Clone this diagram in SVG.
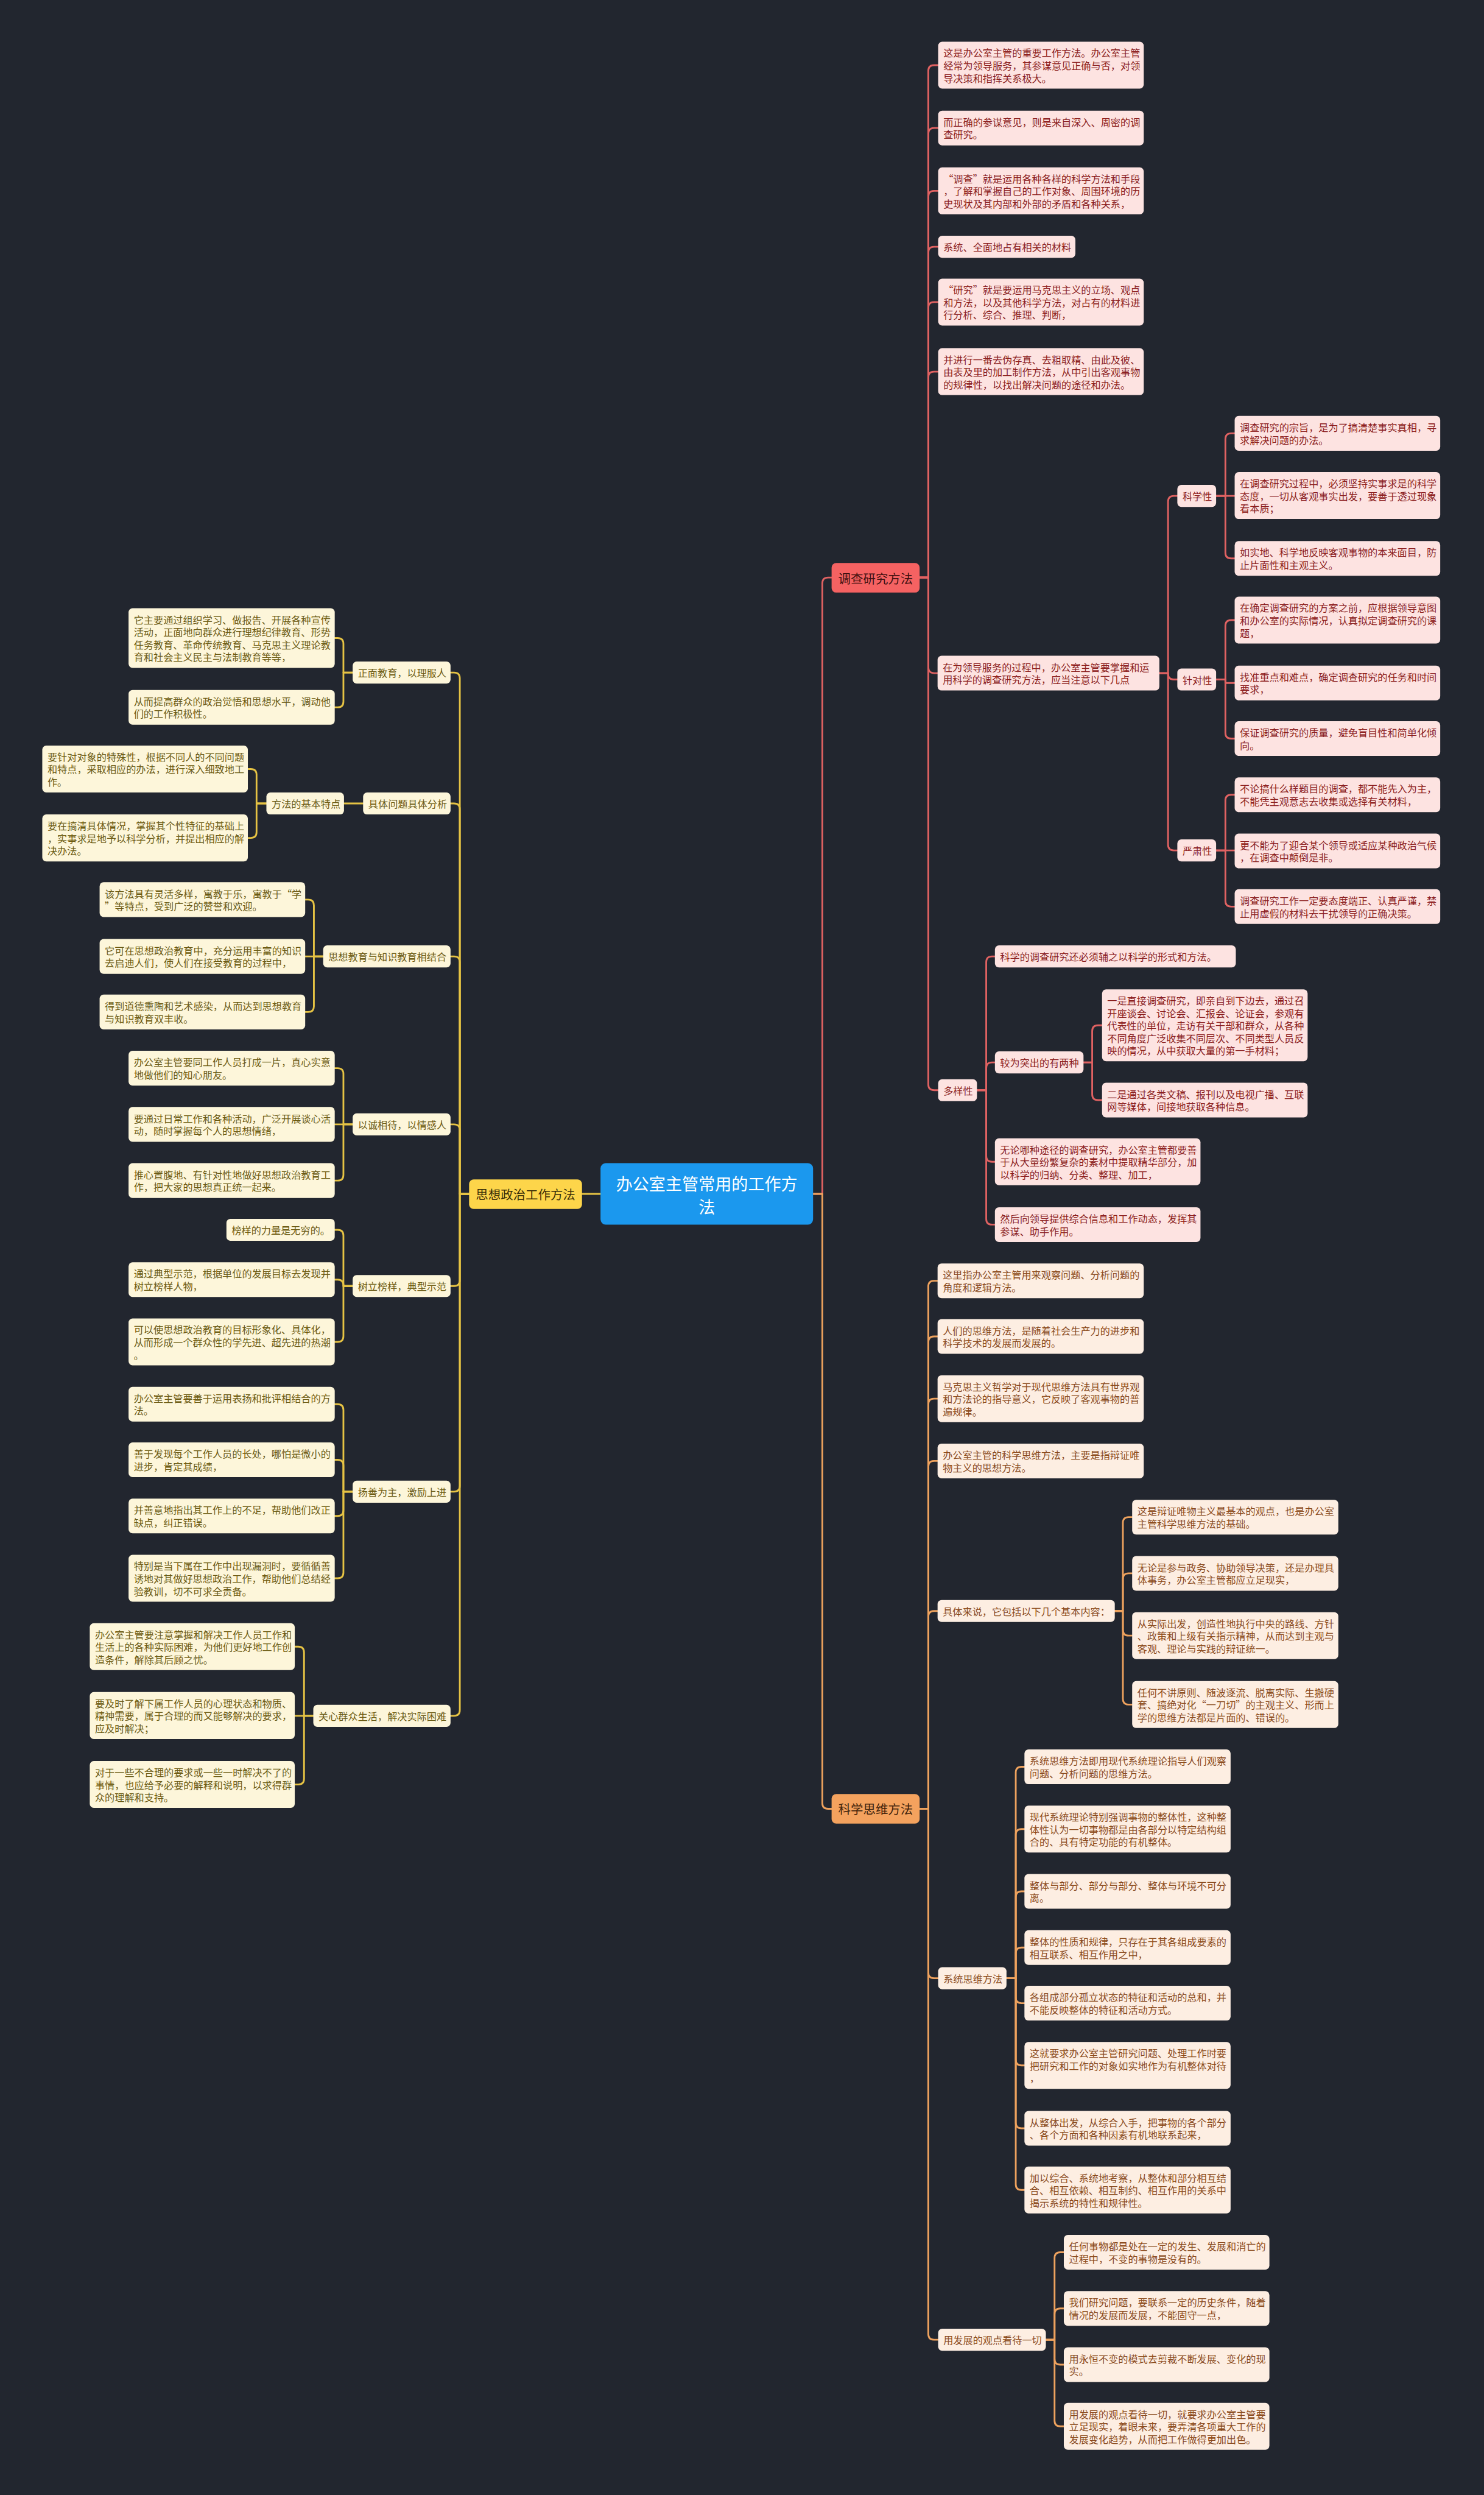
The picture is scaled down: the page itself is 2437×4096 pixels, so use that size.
<svg xmlns="http://www.w3.org/2000/svg" width="2437" height="4096" viewBox="0 0 2437 4096">
<style>
.t{font-family:"Noto Sans CJK SC","Noto Sans",sans-serif;font-size:17px;dominant-baseline:central}
.m{font-family:"Noto Sans CJK SC","Noto Sans",sans-serif;font-size:21.5px;dominant-baseline:central;text-anchor:middle}
.rr{fill:#fde3e1}.tr{fill:#8b1d1d}
.ro{fill:#fdeee2}.to{fill:#8a4a1c}
.ry{fill:#fdf6da}.ty{fill:#6b5a12}
.cr,.co,.cy{fill:none;stroke-width:3;stroke-linejoin:round;stroke-linecap:round}
.cr{stroke:#e06262}.co{stroke:#eea25e}.cy{stroke:#e6c344}
</style>
<rect x="0" y="0" width="2437" height="4096" fill="#22262f"/>
<g transform="scale(0.951)">
<g id="connectors">
<g class="cr">
<path d="M1404 2061 H1420 V1007 Q1420 997 1430 997 H1436"/>
<path d="M1588 997 H1603 V122.5 Q1603 112.5 1613 112.5 H1620"/>
<path d="M1588 997 H1603 V231 Q1603 221 1613 221 H1620"/>
<path d="M1588 997 H1603 V339.5 Q1603 329.5 1613 329.5 H1620"/>
<path d="M1588 997 H1603 V436 Q1603 426 1613 426 H1620"/>
<path d="M1588 997 H1603 V531.5 Q1603 521.5 1613 521.5 H1620"/>
<path d="M1588 997 H1603 V651.5 Q1603 641.5 1613 641.5 H1620"/>
<path d="M1588 997 H1603 V1152 Q1603 1162 1613 1162 H1619"/>
<path d="M1588 997 H1603 V1872 Q1603 1882 1613 1882 H1620"/>
<path d="M2002 1162 H2017 V866 Q2017 856 2027 856 H2033"/>
<path d="M2002 1162 H2017 V1163 Q2017 1173 2027 1173 H2033"/>
<path d="M2002 1162 H2017 V1458 Q2017 1468 2027 1468 H2033"/>
<path d="M2100 856 H2116 V758 Q2116 748 2126 748 H2132"/>
<path d="M2100 856 H2132"/>
<path d="M2100 856 H2116 V954 Q2116 964 2126 964 H2132"/>
<path d="M2100 1173 H2116 V1080.5 Q2116 1070.5 2126 1070.5 H2132"/>
<path d="M2100 1173 H2116 V1179 H2132"/>
<path d="M2100 1173 H2116 V1265 Q2116 1275 2126 1275 H2132"/>
<path d="M2100 1468 H2116 V1382 Q2116 1372 2126 1372 H2132"/>
<path d="M2100 1468 H2132"/>
<path d="M2100 1468 H2116 V1555 Q2116 1565 2126 1565 H2132"/>
<path d="M1687 1882 H1703 V1661 Q1703 1651 1713 1651 H1718"/>
<path d="M1687 1882 H1703 V1844 Q1703 1834 1713 1834 H1718"/>
<path d="M1687 1882 H1703 V1995.5 Q1703 2005.5 1713 2005.5 H1718"/>
<path d="M1687 1882 H1703 V2104 Q1703 2114 1713 2114 H1718"/>
<path d="M1871 1834 H1886 V1780 Q1886 1770 1896 1770 H1903"/>
<path d="M1871 1834 H1886 V1889 Q1886 1899 1896 1899 H1903"/>
</g>
<g class="co">
<path d="M1404 2061 H1420 V3112.5 Q1420 3122.5 1430 3122.5 H1436"/>
<path d="M1588 3122.5 H1603 V2221 Q1603 2211 1613 2211 H1619"/>
<path d="M1588 3122.5 H1603 V2317 Q1603 2307 1613 2307 H1619"/>
<path d="M1588 3122.5 H1603 V2424.5 Q1603 2414.5 1613 2414.5 H1619"/>
<path d="M1588 3122.5 H1603 V2532 Q1603 2522 1613 2522 H1619"/>
<path d="M1588 3122.5 H1603 V2791 Q1603 2781 1613 2781 H1619"/>
<path d="M1588 3122.5 H1603 V3405 Q1603 3415 1613 3415 H1620"/>
<path d="M1588 3122.5 H1603 V4029 Q1603 4039 1613 4039 H1620"/>
<path d="M1925 2781 H1939 V2629 Q1939 2619 1949 2619 H1955"/>
<path d="M1925 2781 H1939 V2726 Q1939 2716 1949 2716 H1955"/>
<path d="M1925 2781 H1939 V2813.5 Q1939 2823.5 1949 2823.5 H1955"/>
<path d="M1925 2781 H1939 V2932.5 Q1939 2942.5 1949 2942.5 H1955"/>
<path d="M1738 3415 H1754 V3060 Q1754 3050 1764 3050 H1769"/>
<path d="M1738 3415 H1754 V3167.5 Q1754 3157.5 1764 3157.5 H1769"/>
<path d="M1738 3415 H1754 V3275 Q1754 3265 1764 3265 H1769"/>
<path d="M1738 3415 H1754 V3372 Q1754 3362 1764 3362 H1769"/>
<path d="M1738 3415 H1754 V3448 Q1754 3458 1764 3458 H1769"/>
<path d="M1738 3415 H1754 V3555.5 Q1754 3565.5 1764 3565.5 H1769"/>
<path d="M1738 3415 H1754 V3664 Q1754 3674 1764 3674 H1769"/>
<path d="M1738 3415 H1754 V3770.5 Q1754 3780.5 1764 3780.5 H1769"/>
<path d="M1806 4039 H1821 V3898 Q1821 3888 1831 3888 H1837"/>
<path d="M1806 4039 H1821 V3995 Q1821 3985 1831 3985 H1837"/>
<path d="M1806 4039 H1821 V4072 Q1821 4082 1831 4082 H1837"/>
<path d="M1806 4039 H1821 V4178.5 Q1821 4188.5 1831 4188.5 H1837"/>
</g>
<g class="cy">
<path d="M1037 2061 H1005"/>
<path d="M810 2061 H794 V1171 Q794 1161 784 1161 H778"/>
<path d="M810 2061 H794 V1397 Q794 1387 784 1387 H778"/>
<path d="M810 2061 H794 V1661 Q794 1651 784 1651 H778"/>
<path d="M810 2061 H794 V1951 Q794 1941 784 1941 H778"/>
<path d="M810 2061 H794 V2210 Q794 2220 784 2220 H778"/>
<path d="M810 2061 H794 V2565 Q794 2575 784 2575 H778"/>
<path d="M810 2061 H794 V2952 Q794 2962 784 2962 H778"/>
<path d="M609 1161 H593 V1111.5 Q593 1101.5 583 1101.5 H578"/>
<path d="M609 1161 H593 V1211 Q593 1221 583 1221 H578"/>
<path d="M627 1387 H594"/>
<path d="M460 1387 H443 V1337.5 Q443 1327.5 433 1327.5 H428"/>
<path d="M460 1387 H443 V1436.5 Q443 1446.5 433 1446.5 H428"/>
<path d="M558 1651 H542 V1563 Q542 1553 532 1553 H527"/>
<path d="M558 1651 H527"/>
<path d="M558 1651 H542 V1737 Q542 1747 532 1747 H527"/>
<path d="M609 1941 H593 V1854 Q593 1844 583 1844 H578"/>
<path d="M609 1941 H578"/>
<path d="M609 1941 H593 V2028 Q593 2038 583 2038 H578"/>
<path d="M609 2220 H593 V2133 Q593 2123 583 2123 H578"/>
<path d="M609 2220 H593 V2219 Q593 2209 583 2209 H578"/>
<path d="M609 2220 H593 V2306.5 Q593 2316.5 583 2316.5 H578"/>
<path d="M609 2575 H593 V2434 Q593 2424 583 2424 H578"/>
<path d="M609 2575 H593 V2530 Q593 2520 583 2520 H578"/>
<path d="M609 2575 H593 V2607 Q593 2617 583 2617 H578"/>
<path d="M609 2575 H593 V2714.5 Q593 2724.5 583 2724.5 H578"/>
<path d="M541 2962 H525 V2852.5 Q525 2842.5 515 2842.5 H509"/>
<path d="M541 2962 H509"/>
<path d="M541 2962 H525 V3070.5 Q525 3080.5 515 3080.5 H509"/>
</g>
</g>

<g id="root"><rect x="1037" y="2008" width="367" height="106" rx="9" fill="#1b98ee"/><text class="m" x="1220.5" y="2043" fill="#ffffff" style="font-size:28.5px">办公室主管常用的工作方</text><text class="m" x="1220.5" y="2083" fill="#ffffff" style="font-size:28.5px">法</text></g>
<g id="n-diaocha"><rect x="1436" y="972" width="152" height="51" rx="8" fill="#f56262"/><text class="m" x="1512" y="997.5" fill="#3e1010">调查研究方法</text></g>
<g id="n-kexue"><rect x="1436" y="3097" width="152" height="51" rx="8" fill="#f4a25e"/><text class="m" x="1512" y="3122.5" fill="#3e230c">科学思维方法</text></g>
<g id="n-sixiang"><rect x="810" y="2036" width="195" height="51" rx="8" fill="#fdd54a"/><text class="m" x="907.5" y="2061.5" fill="#3a2e08">思想政治工作方法</text></g>

<g id="r1"><rect class="rr" x="1620" y="72" width="355" height="81" rx="7"/><text class="t tr" x="1629" y="90.9"><tspan>这是办公室主管的重要工作方法。办公室主管</tspan><tspan x="1629" dy="21.6">经常为领导服务，其参谋意见正确与否，对领</tspan><tspan x="1629" dy="21.6">导决策和指挥关系极大。</tspan></text></g>
<g id="r2"><rect class="rr" x="1620" y="191" width="355" height="60" rx="7"/><text class="t tr" x="1629" y="210.2"><tspan>而正确的参谋意见，则是来自深入、周密的调</tspan><tspan x="1629" dy="21.6">查研究。</tspan></text></g>
<g id="r3"><rect class="rr" x="1620" y="289" width="355" height="81" rx="7"/><text class="t tr" x="1629" y="307.9"><tspan>“调查”就是运用各种各样的科学方法和手段</tspan><tspan x="1629" dy="21.6">，了解和掌握自己的工作对象、周围环境的历</tspan><tspan x="1629" dy="21.6">史现状及其内部和外部的矛盾和各种关系，</tspan></text></g>
<g id="r4"><rect class="rr" x="1620" y="407" width="237" height="38" rx="7"/><text class="t tr" x="1629" y="426">系统、全面地占有相关的材料</text></g>
<g id="r5"><rect class="rr" x="1620" y="481" width="355" height="81" rx="7"/><text class="t tr" x="1629" y="499.9"><tspan>“研究”就是要运用马克思主义的立场、观点</tspan><tspan x="1629" dy="21.6">和方法，以及其他科学方法，对占有的材料进</tspan><tspan x="1629" dy="21.6">行分析、综合、推理、判断，</tspan></text></g>
<g id="r6"><rect class="rr" x="1620" y="601" width="355" height="81" rx="7"/><text class="t tr" x="1629" y="619.9"><tspan>并进行一番去伪存真、去粗取精、由此及彼、</tspan><tspan x="1629" dy="21.6">由表及里的加工制作方法，从中引出客观事物</tspan><tspan x="1629" dy="21.6">的规律性，以找出解决问题的途径和办法。</tspan></text></g>
<g id="r7"><rect class="rr" x="1619" y="1132" width="383" height="60" rx="7"/><text class="t tr" x="1628" y="1151.2"><tspan>在为领导服务的过程中，办公室主管要掌握和运</tspan><tspan x="1628" dy="21.6">用科学的调查研究方法，应当注意以下几点</tspan></text></g>
<g id="r-kxx"><rect class="rr" x="2033" y="837" width="67" height="38" rx="7"/><text class="t tr" x="2042" y="856">科学性</text></g>
<g id="r-zdx"><rect class="rr" x="2033" y="1154" width="67" height="38" rx="7"/><text class="t tr" x="2042" y="1173">针对性</text></g>
<g id="r-ysx"><rect class="rr" x="2033" y="1449" width="67" height="38" rx="7"/><text class="t tr" x="2042" y="1468">严肃性</text></g>
<g id="l1"><rect class="rr" x="2132" y="718" width="355" height="60" rx="7"/><text class="t tr" x="2141" y="737.2"><tspan>调查研究的宗旨，是为了搞清楚事实真相，寻</tspan><tspan x="2141" dy="21.6">求解决问题的办法。</tspan></text></g>
<g id="l2"><rect class="rr" x="2132" y="815" width="355" height="81" rx="7"/><text class="t tr" x="2141" y="833.9"><tspan>在调查研究过程中，必须坚持实事求是的科学</tspan><tspan x="2141" dy="21.6">态度，一切从客观事实出发，要善于透过现象</tspan><tspan x="2141" dy="21.6">看本质；</tspan></text></g>
<g id="l3"><rect class="rr" x="2132" y="934" width="355" height="60" rx="7"/><text class="t tr" x="2141" y="953.2"><tspan>如实地、科学地反映客观事物的本来面目，防</tspan><tspan x="2141" dy="21.6">止片面性和主观主义。</tspan></text></g>
<g id="l4"><rect class="rr" x="2132" y="1030" width="355" height="81" rx="7"/><text class="t tr" x="2141" y="1048.9"><tspan>在确定调查研究的方案之前，应根据领导意图</tspan><tspan x="2141" dy="21.6">和办公室的实际情况，认真拟定调查研究的课</tspan><tspan x="2141" dy="21.6">题，</tspan></text></g>
<g id="l5"><rect class="rr" x="2132" y="1149" width="355" height="60" rx="7"/><text class="t tr" x="2141" y="1168.2"><tspan>找准重点和难点，确定调查研究的任务和时间</tspan><tspan x="2141" dy="21.6">要求，</tspan></text></g>
<g id="l6"><rect class="rr" x="2132" y="1245" width="355" height="60" rx="7"/><text class="t tr" x="2141" y="1264.2"><tspan>保证调查研究的质量，避免盲目性和简单化倾</tspan><tspan x="2141" dy="21.6">向。</tspan></text></g>
<g id="l7"><rect class="rr" x="2132" y="1342" width="355" height="60" rx="7"/><text class="t tr" x="2141" y="1361.2"><tspan>不论搞什么样题目的调查，都不能先入为主，</tspan><tspan x="2141" dy="21.6">不能凭主观意志去收集或选择有关材料，</tspan></text></g>
<g id="l8"><rect class="rr" x="2132" y="1439" width="355" height="60" rx="7"/><text class="t tr" x="2141" y="1458.2"><tspan>更不能为了迎合某个领导或适应某种政治气候</tspan><tspan x="2141" dy="21.6">，在调查中颠倒是非。</tspan></text></g>
<g id="l9"><rect class="rr" x="2132" y="1535" width="355" height="60" rx="7"/><text class="t tr" x="2141" y="1554.2"><tspan>调查研究工作一定要态度端正、认真严谨，禁</tspan><tspan x="2141" dy="21.6">止用虚假的材料去干扰领导的正确决策。</tspan></text></g>
<g id="r-dyx"><rect class="rr" x="1620" y="1863" width="67" height="38" rx="7"/><text class="t tr" x="1629" y="1882">多样性</text></g>
<g id="m1"><rect class="rr" x="1718" y="1632" width="416" height="38" rx="7"/><text class="t tr" x="1727" y="1651">科学的调查研究还必须辅之以科学的形式和方法。</text></g>
<g id="m2"><rect class="rr" x="1718" y="1815" width="153" height="38" rx="7"/><text class="t tr" x="1727" y="1834">较为突出的有两种</text></g>
<g id="m2a"><rect class="rr" x="1903" y="1708" width="355" height="124" rx="7"/><text class="t tr" x="1912" y="1726.8"><tspan>一是直接调查研究，即亲自到下边去，通过召</tspan><tspan x="1912" dy="21.6">开座谈会、讨论会、汇报会、论证会，参观有</tspan><tspan x="1912" dy="21.6">代表性的单位，走访有关干部和群众，从各种</tspan><tspan x="1912" dy="21.6">不同角度广泛收集不同层次、不同类型人员反</tspan><tspan x="1912" dy="21.6">映的情况，从中获取大量的第一手材料；</tspan></text></g>
<g id="m2b"><rect class="rr" x="1903" y="1869" width="355" height="60" rx="7"/><text class="t tr" x="1912" y="1888.2"><tspan>二是通过各类文稿、报刊以及电视广播、互联</tspan><tspan x="1912" dy="21.6">网等媒体，间接地获取各种信息。</tspan></text></g>
<g id="m3"><rect class="rr" x="1718" y="1965" width="355" height="81" rx="7"/><text class="t tr" x="1727" y="1983.9"><tspan>无论哪种途径的调查研究，办公室主管都要善</tspan><tspan x="1727" dy="21.6">于从大量纷繁复杂的素材中提取精华部分，加</tspan><tspan x="1727" dy="21.6">以科学的归纳、分类、整理、加工，</tspan></text></g>
<g id="m4"><rect class="rr" x="1718" y="2084" width="355" height="60" rx="7"/><text class="t tr" x="1727" y="2103.2"><tspan>然后向领导提供综合信息和工作动态，发挥其</tspan><tspan x="1727" dy="21.6">参谋、助手作用。</tspan></text></g>

<g id="o1"><rect class="ro" x="1619" y="2181" width="356" height="60" rx="7"/><text class="t to" x="1628" y="2200.2"><tspan>这里指办公室主管用来观察问题、分析问题的</tspan><tspan x="1628" dy="21.6">角度和逻辑方法。</tspan></text></g>
<g id="o2"><rect class="ro" x="1619" y="2277" width="356" height="60" rx="7"/><text class="t to" x="1628" y="2296.2"><tspan>人们的思维方法，是随着社会生产力的进步和</tspan><tspan x="1628" dy="21.6">科学技术的发展而发展的。</tspan></text></g>
<g id="o3"><rect class="ro" x="1619" y="2374" width="356" height="81" rx="7"/><text class="t to" x="1628" y="2392.9"><tspan>马克思主义哲学对于现代思维方法具有世界观</tspan><tspan x="1628" dy="21.6">和方法论的指导意义，它反映了客观事物的普</tspan><tspan x="1628" dy="21.6">遍规律。</tspan></text></g>
<g id="o4"><rect class="ro" x="1619" y="2492" width="356" height="60" rx="7"/><text class="t to" x="1628" y="2511.2"><tspan>办公室主管的科学思维方法，主要是指辩证唯</tspan><tspan x="1628" dy="21.6">物主义的思想方法。</tspan></text></g>
<g id="o5"><rect class="ro" x="1619" y="2762" width="306" height="38" rx="7"/><text class="t to" x="1628" y="2781">具体来说，它包括以下几个基本内容：</text></g>
<g id="o5a"><rect class="ro" x="1955" y="2589" width="356" height="60" rx="7"/><text class="t to" x="1964" y="2608.2"><tspan>这是辩证唯物主义最基本的观点，也是办公室</tspan><tspan x="1964" dy="21.6">主管科学思维方法的基础。</tspan></text></g>
<g id="o5b"><rect class="ro" x="1955" y="2686" width="356" height="60" rx="7"/><text class="t to" x="1964" y="2705.2"><tspan>无论是参与政务、协助领导决策，还是办理具</tspan><tspan x="1964" dy="21.6">体事务，办公室主管都应立足现实，</tspan></text></g>
<g id="o5c"><rect class="ro" x="1955" y="2783" width="356" height="81" rx="7"/><text class="t to" x="1964" y="2801.9"><tspan>从实际出发，创造性地执行中央的路线、方针</tspan><tspan x="1964" dy="21.6">、政策和上级有关指示精神，从而达到主观与</tspan><tspan x="1964" dy="21.6">客观、理论与实践的辩证统一。</tspan></text></g>
<g id="o5d"><rect class="ro" x="1955" y="2902" width="356" height="81" rx="7"/><text class="t to" x="1964" y="2920.9"><tspan>任何不讲原则、随波逐流、脱离实际、生搬硬</tspan><tspan x="1964" dy="21.6">套、搞绝对化“一刀切”的主观主义、形而上</tspan><tspan x="1964" dy="21.6">学的思维方法都是片面的、错误的。</tspan></text></g>
<g id="o6"><rect class="ro" x="1620" y="3396" width="118" height="38" rx="7"/><text class="t to" x="1629" y="3415">系统思维方法</text></g>
<g id="s1"><rect class="ro" x="1769" y="3020" width="356" height="60" rx="7"/><text class="t to" x="1778" y="3039.2"><tspan>系统思维方法即用现代系统理论指导人们观察</tspan><tspan x="1778" dy="21.6">问题、分析问题的思维方法。</tspan></text></g>
<g id="s2"><rect class="ro" x="1769" y="3117" width="356" height="81" rx="7"/><text class="t to" x="1778" y="3135.9"><tspan>现代系统理论特别强调事物的整体性，这种整</tspan><tspan x="1778" dy="21.6">体性认为一切事物都是由各部分以特定结构组</tspan><tspan x="1778" dy="21.6">合的、具有特定功能的有机整体。</tspan></text></g>
<g id="s3"><rect class="ro" x="1769" y="3235" width="356" height="60" rx="7"/><text class="t to" x="1778" y="3254.2"><tspan>整体与部分、部分与部分、整体与环境不可分</tspan><tspan x="1778" dy="21.6">离。</tspan></text></g>
<g id="s4"><rect class="ro" x="1769" y="3332" width="356" height="60" rx="7"/><text class="t to" x="1778" y="3351.2"><tspan>整体的性质和规律，只存在于其各组成要素的</tspan><tspan x="1778" dy="21.6">相互联系、相互作用之中，</tspan></text></g>
<g id="s5"><rect class="ro" x="1769" y="3428" width="356" height="60" rx="7"/><text class="t to" x="1778" y="3447.2"><tspan>各组成部分孤立状态的特征和活动的总和，并</tspan><tspan x="1778" dy="21.6">不能反映整体的特征和活动方式。</tspan></text></g>
<g id="s6"><rect class="ro" x="1769" y="3525" width="356" height="81" rx="7"/><text class="t to" x="1778" y="3543.9"><tspan>这就要求办公室主管研究问题、处理工作时要</tspan><tspan x="1778" dy="21.6">把研究和工作的对象如实地作为有机整体对待</tspan><tspan x="1778" dy="21.6">，</tspan></text></g>
<g id="s7"><rect class="ro" x="1769" y="3644" width="356" height="60" rx="7"/><text class="t to" x="1778" y="3663.2"><tspan>从整体出发，从综合入手，把事物的各个部分</tspan><tspan x="1778" dy="21.6">、各个方面和各种因素有机地联系起来，</tspan></text></g>
<g id="s8"><rect class="ro" x="1769" y="3740" width="356" height="81" rx="7"/><text class="t to" x="1778" y="3758.9"><tspan>加以综合、系统地考察，从整体和部分相互结</tspan><tspan x="1778" dy="21.6">合、相互依赖、相互制约、相互作用的关系中</tspan><tspan x="1778" dy="21.6">揭示系统的特性和规律性。</tspan></text></g>
<g id="o7"><rect class="ro" x="1620" y="4020" width="186" height="38" rx="7"/><text class="t to" x="1629" y="4039">用发展的观点看待一切</text></g>
<g id="d1"><rect class="ro" x="1837" y="3858" width="355" height="60" rx="7"/><text class="t to" x="1846" y="3877.2"><tspan>任何事物都是处在一定的发生、发展和消亡的</tspan><tspan x="1846" dy="21.6">过程中，不变的事物是没有的。</tspan></text></g>
<g id="d2"><rect class="ro" x="1837" y="3955" width="355" height="60" rx="7"/><text class="t to" x="1846" y="3974.2"><tspan>我们研究问题，要联系一定的历史条件，随着</tspan><tspan x="1846" dy="21.6">情况的发展而发展，不能固守一点，</tspan></text></g>
<g id="d3"><rect class="ro" x="1837" y="4052" width="355" height="60" rx="7"/><text class="t to" x="1846" y="4071.2"><tspan>用永恒不变的模式去剪裁不断发展、变化的现</tspan><tspan x="1846" dy="21.6">实。</tspan></text></g>
<g id="d4"><rect class="ro" x="1837" y="4148" width="355" height="81" rx="7"/><text class="t to" x="1846" y="4166.9"><tspan>用发展的观点看待一切，就要求办公室主管要</tspan><tspan x="1846" dy="21.6">立足现实，着眼未来，要弄清各项重大工作的</tspan><tspan x="1846" dy="21.6">发展变化趋势，从而把工作做得更加出色。</tspan></text></g>

<g id="y-zm"><rect class="ry" x="609" y="1142" width="169" height="38" rx="7"/><text class="t ty" x="618" y="1161">正面教育，以理服人</text></g>
<g id="p1"><rect class="ry" x="222" y="1050" width="356" height="103" rx="7"/><text class="t ty" x="231" y="1069.1"><tspan>它主要通过组织学习、做报告、开展各种宣传</tspan><tspan x="231" dy="21.6">活动，正面地向群众进行理想纪律教育、形势</tspan><tspan x="231" dy="21.6">任务教育、革命传统教育、马克思主义理论教</tspan><tspan x="231" dy="21.6">育和社会主义民主与法制教育等等，</tspan></text></g>
<g id="p2"><rect class="ry" x="222" y="1191" width="356" height="60" rx="7"/><text class="t ty" x="231" y="1210.2"><tspan>从而提高群众的政治觉悟和思想水平，调动他</tspan><tspan x="231" dy="21.6">们的工作积极性。</tspan></text></g>
<g id="y-jt"><rect class="ry" x="627" y="1368" width="151" height="38" rx="7"/><text class="t ty" x="636" y="1387">具体问题具体分析</text></g>
<g id="y-ff"><rect class="ry" x="460" y="1368" width="134" height="38" rx="7"/><text class="t ty" x="469" y="1387">方法的基本特点</text></g>
<g id="f1"><rect class="ry" x="73" y="1287" width="355" height="81" rx="7"/><text class="t ty" x="82" y="1305.9"><tspan>要针对对象的特殊性，根据不同人的不同问题</tspan><tspan x="82" dy="21.6">和特点，采取相应的办法，进行深入细致地工</tspan><tspan x="82" dy="21.6">作。</tspan></text></g>
<g id="f2"><rect class="ry" x="73" y="1406" width="355" height="81" rx="7"/><text class="t ty" x="82" y="1424.9"><tspan>要在搞清具体情况，掌握其个性特征的基础上</tspan><tspan x="82" dy="21.6">，实事求是地予以科学分析，并提出相应的解</tspan><tspan x="82" dy="21.6">决办法。</tspan></text></g>
<g id="y-sx"><rect class="ry" x="558" y="1632" width="220" height="38" rx="7"/><text class="t ty" x="567" y="1651">思想教育与知识教育相结合</text></g>
<g id="k1"><rect class="ry" x="172" y="1523" width="355" height="60" rx="7"/><text class="t ty" x="181" y="1542.2"><tspan>该方法具有灵活多样，寓教于乐，寓教于“学</tspan><tspan x="181" dy="21.6">”等特点，受到广泛的赞誉和欢迎。</tspan></text></g>
<g id="k2"><rect class="ry" x="172" y="1621" width="355" height="60" rx="7"/><text class="t ty" x="181" y="1640.2"><tspan>它可在思想政治教育中，充分运用丰富的知识</tspan><tspan x="181" dy="21.6">去启迪人们，使人们在接受教育的过程中，</tspan></text></g>
<g id="k3"><rect class="ry" x="172" y="1717" width="355" height="60" rx="7"/><text class="t ty" x="181" y="1736.2"><tspan>得到道德熏陶和艺术感染，从而达到思想教育</tspan><tspan x="181" dy="21.6">与知识教育双丰收。</tspan></text></g>
<g id="y-yc"><rect class="ry" x="609" y="1922" width="169" height="38" rx="7"/><text class="t ty" x="618" y="1941">以诚相待，以情感人</text></g>
<g id="c1"><rect class="ry" x="222" y="1814" width="356" height="60" rx="7"/><text class="t ty" x="231" y="1833.2"><tspan>办公室主管要同工作人员打成一片，真心实意</tspan><tspan x="231" dy="21.6">地做他们的知心朋友。</tspan></text></g>
<g id="c2"><rect class="ry" x="222" y="1911" width="356" height="60" rx="7"/><text class="t ty" x="231" y="1930.2"><tspan>要通过日常工作和各种活动，广泛开展谈心活</tspan><tspan x="231" dy="21.6">动，随时掌握每个人的思想情绪，</tspan></text></g>
<g id="c3"><rect class="ry" x="222" y="2008" width="356" height="60" rx="7"/><text class="t ty" x="231" y="2027.2"><tspan>推心置腹地、有针对性地做好思想政治教育工</tspan><tspan x="231" dy="21.6">作，把大家的思想真正统一起来。</tspan></text></g>
<g id="y-sl"><rect class="ry" x="609" y="2201" width="169" height="38" rx="7"/><text class="t ty" x="618" y="2220">树立榜样，典型示范</text></g>
<g id="t1"><rect class="ry" x="391" y="2104" width="187" height="38" rx="7"/><text class="t ty" x="400" y="2123">榜样的力量是无穷的。</text></g>
<g id="t2"><rect class="ry" x="222" y="2179" width="356" height="60" rx="7"/><text class="t ty" x="231" y="2198.2"><tspan>通过典型示范，根据单位的发展目标去发现并</tspan><tspan x="231" dy="21.6">树立榜样人物，</tspan></text></g>
<g id="t3"><rect class="ry" x="222" y="2276" width="356" height="81" rx="7"/><text class="t ty" x="231" y="2294.9"><tspan>可以使思想政治教育的目标形象化、具体化，</tspan><tspan x="231" dy="21.6">从而形成一个群众性的学先进、超先进的热潮</tspan><tspan x="231" dy="21.6">。</tspan></text></g>
<g id="y-ys"><rect class="ry" x="609" y="2556" width="169" height="38" rx="7"/><text class="t ty" x="618" y="2575">扬善为主，激励上进</text></g>
<g id="u1"><rect class="ry" x="222" y="2394" width="356" height="60" rx="7"/><text class="t ty" x="231" y="2413.2"><tspan>办公室主管要善于运用表扬和批评相结合的方</tspan><tspan x="231" dy="21.6">法。</tspan></text></g>
<g id="u2"><rect class="ry" x="222" y="2490" width="356" height="60" rx="7"/><text class="t ty" x="231" y="2509.2"><tspan>善于发现每个工作人员的长处，哪怕是微小的</tspan><tspan x="231" dy="21.6">进步，肯定其成绩，</tspan></text></g>
<g id="u3"><rect class="ry" x="222" y="2587" width="356" height="60" rx="7"/><text class="t ty" x="231" y="2606.2"><tspan>并善意地指出其工作上的不足，帮助他们改正</tspan><tspan x="231" dy="21.6">缺点，纠正错误。</tspan></text></g>
<g id="u4"><rect class="ry" x="222" y="2684" width="356" height="81" rx="7"/><text class="t ty" x="231" y="2702.9"><tspan>特别是当下属在工作中出现漏洞时，要循循善</tspan><tspan x="231" dy="21.6">诱地对其做好思想政治工作，帮助他们总结经</tspan><tspan x="231" dy="21.6">验教训，切不可求全责备。</tspan></text></g>
<g id="y-gx"><rect class="ry" x="541" y="2943" width="237" height="38" rx="7"/><text class="t ty" x="550" y="2962">关心群众生活，解决实际困难</text></g>
<g id="g1"><rect class="ry" x="155" y="2802" width="354" height="81" rx="7"/><text class="t ty" x="164" y="2820.9"><tspan>办公室主管要注意掌握和解决工作人员工作和</tspan><tspan x="164" dy="21.6">生活上的各种实际困难，为他们更好地工作创</tspan><tspan x="164" dy="21.6">造条件，解除其后顾之忧。</tspan></text></g>
<g id="g2"><rect class="ry" x="155" y="2921" width="354" height="81" rx="7"/><text class="t ty" x="164" y="2939.9"><tspan>要及时了解下属工作人员的心理状态和物质、</tspan><tspan x="164" dy="21.6">精神需要，属于合理的而又能够解决的要求，</tspan><tspan x="164" dy="21.6">应及时解决；</tspan></text></g>
<g id="g3"><rect class="ry" x="155" y="3040" width="354" height="81" rx="7"/><text class="t ty" x="164" y="3058.9"><tspan>对于一些不合理的要求或一些一时解决不了的</tspan><tspan x="164" dy="21.6">事情，也应给予必要的解释和说明，以求得群</tspan><tspan x="164" dy="21.6">众的理解和支持。</tspan></text></g>
</g>
</svg>
